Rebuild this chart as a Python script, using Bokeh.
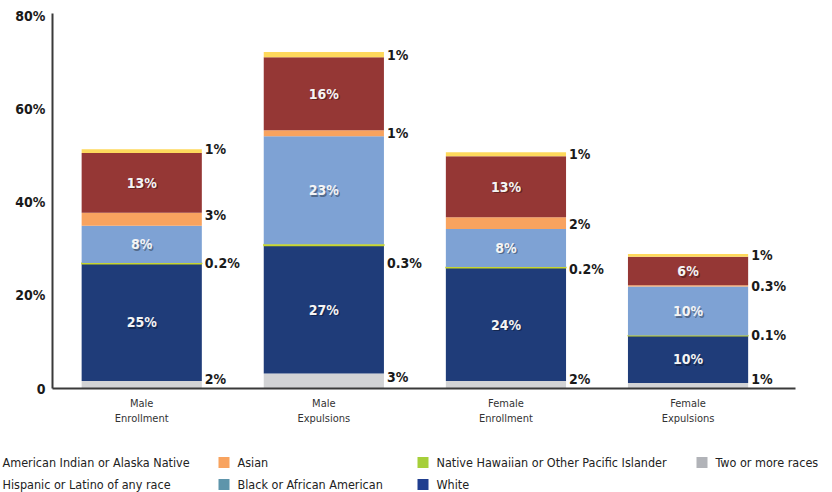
from bokeh.plotting import figure
from bokeh.models import Range1d, FixedTicker, ColumnDataSource
from bokeh.layouts import column
from bokeh.embed import file_html
from bokeh.resources import INLINE
from bokeh.core.properties import value

# ---------------- data ----------------
categories = ["Male\nEnrollment", "Male\nExpulsions", "Female\nEnrollment", "Female\nExpulsions"]
races = ["Two or more races", "White", "Native Hawaiian or Other Pacific Islander",
         "Black or African American", "Asian", "Hispanic or Latino of any race",
         "American Indian or Alaska Native"]
two_or_more = [1.6, 3.2, 1.6, 1.2]
white = [25.2, 27.5, 24.3, 10.1]
native_hawaiian = [0.2, 0.3, 0.2, 0.1]
black = [8.0, 23.2, 8.2, 10.5]
asian = [2.8, 1.3, 2.5, 0.3]
hispanic = [12.8, 15.7, 13.1, 6.1]
american_indian = [0.8, 1.1, 0.9, 0.6]

two_or_more_labels = ["2%", "3%", "2%", "1%"]
white_labels = ["25%", "27%", "24%", "10%"]
nh_labels = ["0.2%", "0.3%", "0.2%", "0.1%"]
black_labels = ["8%", "23%", "8%", "10%"]
asian_labels = ["3%", "1%", "2%", "0.3%"]
hispanic_labels = ["13%", "16%", "13%", "6%"]
ai_labels = ["1%", "1%", "1%", "1%"]

y_ticks = [0, 20, 40, 60, 80]
y_tick_labels = ["0", "20%", "40%", "60%", "80%"]

# ---------------- style ----------------
FONT = "DejaVu Sans Condensed"
bar_colors = ["#d2d3d5", "#1f3c79", "#c8d62e", "#7ea2d4", "#f8a35f", "#953735", "#fed95c"]
legend_colors = {"American Indian or Alaska Native": "#fed95c",
                 "Hispanic or Latino of any race": "#953735",
                 "Asian": "#f8a35f", "Native Hawaiian or Other Pacific Islander": "#a6cf3a",
                 "Two or more races": "#b1b3b8", "Black or African American": "#5e95ab",
                 "White": "#203e8f"}
# pixel nudges for the outside labels (screen px, positive = down)
out_offsets = {
    "gray": [-6, -4, -6, -7],
    "nh": [0, 18, 1, -1],
    "asian": [-4, 0, 1, 0],
    "ai": [-2, 0, 0, 0],
}

xs = list(range(len(categories)))
BW = 0.66

p = figure(width=832, height=440, output_backend="svg", toolbar_location=None,
           x_range=Range1d(-0.49, 3.59), y_range=Range1d(0, 80.6),
           min_border_left=52, min_border_right=37, min_border_top=13,
           min_border_bottom=52, frame_align=False)
p.outline_line_color = None
p.xgrid.visible = False
p.ygrid.visible = False
p.background_fill_color = "white"

series = [two_or_more, white, native_hawaiian, black, asian, hispanic, american_indian]
bottoms = [0.0] * 4
stack_bottoms, stack_tops = [], []
for vals, col in zip(series, bar_colors):
    tops = [b + v for b, v in zip(bottoms, vals)]
    src = ColumnDataSource(dict(x=xs, bottom=bottoms, top=tops))
    if col == "#c8d62e":
        p.vbar(x="x", width=BW, bottom="bottom", top="top", source=src,
               fill_color=col, line_color=col, line_width=1.2)
    else:
        p.vbar(x="x", width=BW, bottom="bottom", top="top", source=src,
               fill_color=col, line_color=None)
    stack_bottoms.append(bottoms)
    stack_tops.append(tops)
    bottoms = tops

def centers(i):
    return [(b + t) / 2 for b, t in zip(stack_bottoms[i], stack_tops[i])]

# inside labels (white with soft shadow)
for i, labels in [(1, white_labels), (3, black_labels), (5, hispanic_labels)]:
    src = ColumnDataSource(dict(x=xs, y=centers(i), t=labels))
    p.text(x="x", y="y", text="t", source=src, text_font=value(FONT), text_font_style="bold",
           text_font_size="14px", text_color="#000000", text_alpha=0.35,
           text_align="center", text_baseline="middle", x_offset=1.5, y_offset=1.5)
    p.text(x="x", y="y", text="t", source=src, text_font=value(FONT), text_font_style="bold",
           text_font_size="14px", text_color="#f4f4f4",
           text_align="center", text_baseline="middle")

# outside labels
right_x = [x + BW / 2 for x in xs]
for i, labels, key in [(0, two_or_more_labels, "gray"), (2, nh_labels, "nh"),
                       (4, asian_labels, "asian"), (6, ai_labels, "ai")]:
    src = ColumnDataSource(dict(x=right_x, y=centers(i), t=labels, yo=out_offsets[key]))
    p.text(x="x", y="y", text="t", source=src, text_font=value(FONT), text_font_style="bold",
           text_font_size="14px", text_color="#1a1a1a", text_align="left",
           text_baseline="middle", x_offset=3, y_offset="yo")

# axes
p.xaxis.ticker = FixedTicker(ticks=xs)
p.xaxis.major_label_overrides = {x: c for x, c in zip(xs, categories)}
p.xaxis.major_tick_line_color = None
p.xaxis.major_tick_out = 0
p.xaxis.major_tick_in = 0
p.xaxis.minor_tick_line_color = None
p.xaxis.axis_line_color = "#3a3a3a"
p.xaxis.axis_line_width = 2
p.xaxis.major_label_text_font = FONT
p.xaxis.major_label_text_font_size = "11px"
p.xaxis.major_label_text_color = "#333333"
p.xaxis.major_label_standoff = 8

p.yaxis.ticker = FixedTicker(ticks=y_ticks)
p.yaxis.major_label_overrides = {t: l for t, l in zip(y_ticks, y_tick_labels)}
p.yaxis.major_tick_line_color = None
p.yaxis.major_tick_out = 0
p.yaxis.major_tick_in = 0
p.yaxis.minor_tick_line_color = None
p.yaxis.axis_line_color = "#3a3a3a"
p.yaxis.axis_line_width = 2
p.yaxis.major_label_text_font = FONT
p.yaxis.major_label_text_font_style = "bold"
p.yaxis.major_label_text_font_size = "14px"
p.yaxis.major_label_text_color = "#1a1a1a"
p.yaxis.major_label_standoff = 7

# ---------------- legend strip (its own full-width frame) ----------------
leg = figure(width=832, height=52, output_backend="svg", toolbar_location=None,
             x_range=Range1d(0, 832), y_range=Range1d(52, 0),
             x_axis_location=None, y_axis_location=None,
             min_border=0, min_border_left=0, min_border_right=0,
             min_border_top=0, min_border_bottom=0, frame_align=False)
leg.xgrid.visible = False
leg.ygrid.visible = False
leg.outline_line_color = None

legend_columns = [
    (-17, ["American Indian or Alaska Native", "Hispanic or Latino of any race"]),
    (218, ["Asian", "Black or African American"]),
    (417, ["Native Hawaiian or Other Pacific Islander", "White"]),
    (696, ["Two or more races"]),
]
ROW_Y = [22, 44]
SW, STANDOFF = 11, 8
sx, sy, sc, tx, ty, tt = [], [], [], [], [], []
for left, names in legend_columns:
    for name, yy in zip(names, ROW_Y):
        sx.append(left + SW / 2); sy.append(yy); sc.append(legend_colors[name])
        tx.append(left + SW + STANDOFF); ty.append(yy); tt.append(name)
leg.rect(x=sx, y=sy, width=SW, height=SW, fill_color=sc, line_color=None)
leg.text(x=tx, y=ty, text=tt, text_font=value(FONT), text_font_size="12.5px",
         text_color="#222222", text_baseline="middle", text_align="left")

layout = column(p, leg, spacing=0)
open("out.html", "w").write(file_html(layout, INLINE))
